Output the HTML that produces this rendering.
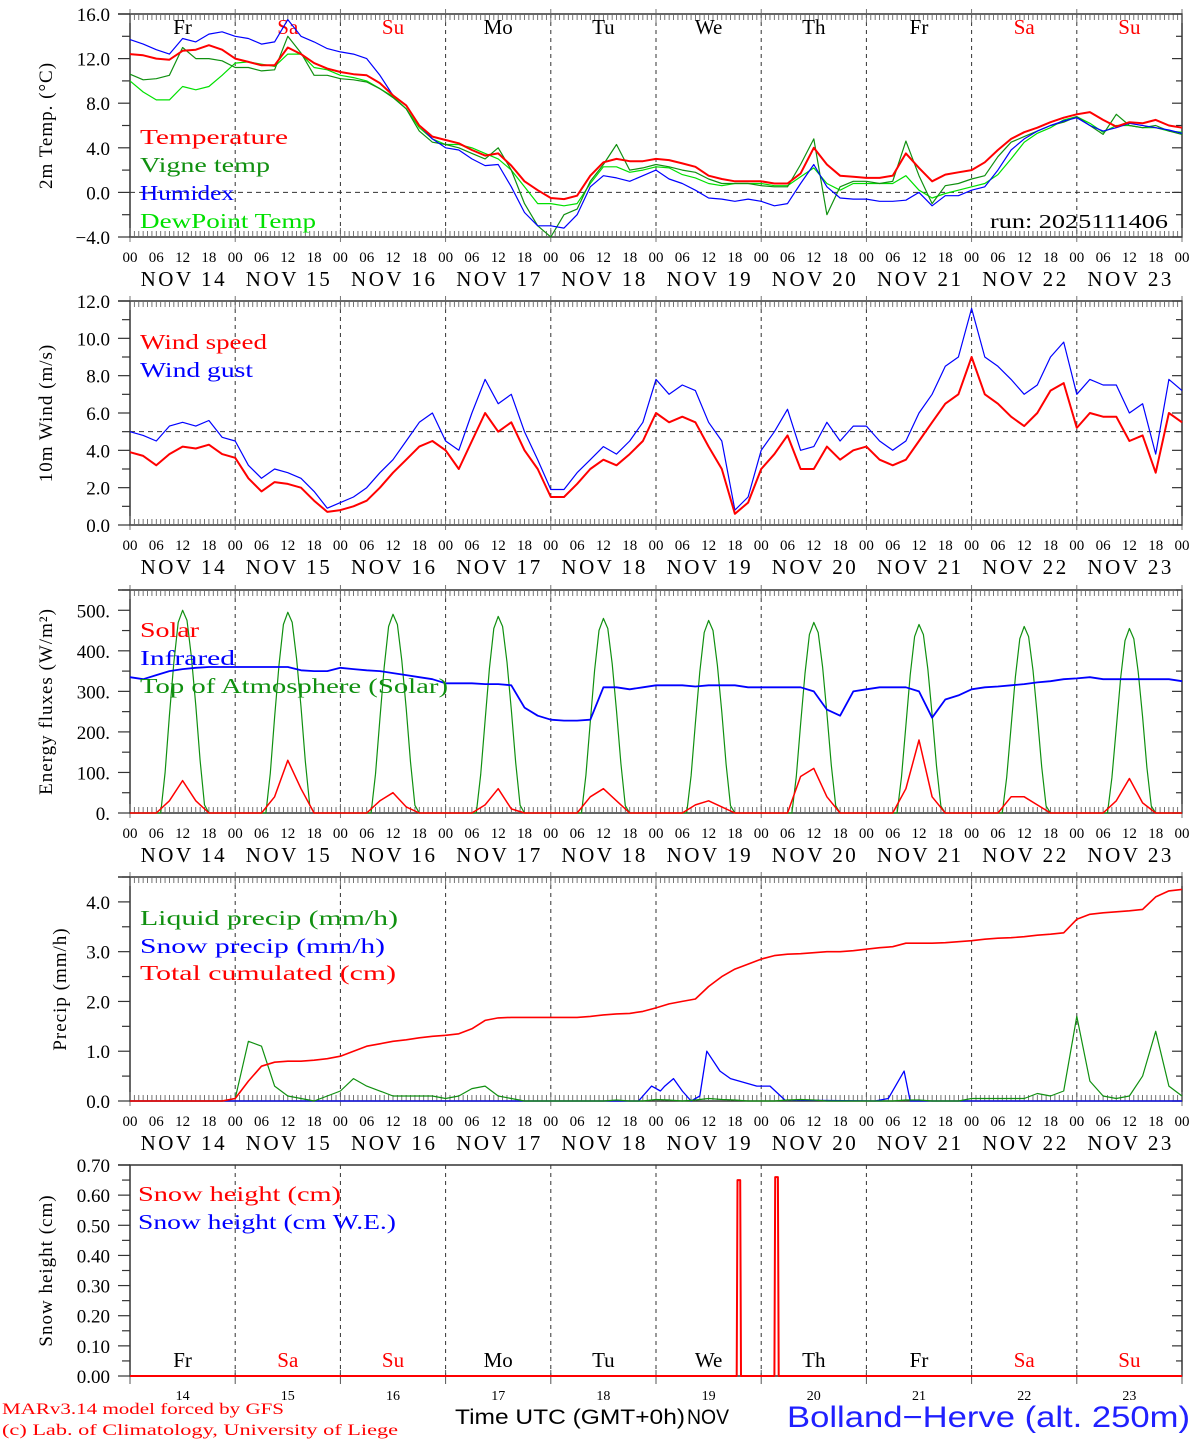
<!DOCTYPE html>
<html><head><meta charset="utf-8"><style>
html,body{margin:0;padding:0;background:#fff;}
svg{display:block;}
text{font-family:"Liberation Serif",serif;}
</style></head><body>
<svg id="chart" xmlns="http://www.w3.org/2000/svg" width="1194" height="1440" viewBox="0 0 1194 1440">
<rect width="1194" height="1440" fill="#fff"/>
</svg>
<script>
// ---------- DATA (3-hourly, t = 0..240 h from NOV 14 00 UTC) ----------
const dayNames = ["Fr","Sa","Su","Mo","Tu","We","Th","Fr","Sa","Su"];
const dayNums = ["14","15","16","17","18","19","20","21","22","23"];
const hourLabels = ["00","06","12","18"];
const tempTicks = [-4,0,4,8,12,16];
const windTicks = [0,2,4,6,8,10,12];
const fluxTicks = [0,100,200,300,400,500];
const precTicks = [0,1,2,3,4];
const snowTicks = [0,0.1,0.2,0.3,0.4,0.5,0.6,0.7];

const temperature = [12.4,12.3,12.0,11.9,12.7,12.8,13.2,12.8, 12.0,11.7,11.4,11.4,13.0,12.4,11.6,11.1, 10.8,10.6,10.5,9.8,8.7,7.8,6.0,5.0, 4.7,4.4,3.8,3.3,3.5,2.4,1.0,0.2, -0.5,-0.6,-0.3,1.5,2.7,3.0,2.8,2.8, 3.0,2.9,2.6,2.3,1.5,1.2,1.0,1.0, 1.0,0.8,0.8,1.7,4.0,2.5,1.5,1.4, 1.3,1.3,1.5,3.5,2.2,1.0,1.6,1.8, 2.0,2.7,3.8,4.8,5.4,5.8,6.3,6.7, 7.0,7.2,6.5,5.9,6.3,6.2,6.5,6.0,5.8];
const vigne = [10.6,10.1,10.2,10.5,13.0,12.0,12.0,11.8, 11.2,11.2,10.9,11.0,14.0,12.5,10.5,10.5, 10.2,10.1,9.9,9.3,8.5,7.5,5.5,4.5, 4.3,4.0,3.5,3.0,4.0,2.0,-1.0,-3.0, -4.0,-2.0,-1.5,1.0,2.5,4.3,2.0,2.2, 2.5,2.3,2.0,1.8,1.2,0.8,0.8,0.8, 0.6,0.5,0.5,2.5,4.8,-2.0,0.5,1.0, 1.0,0.8,1.0,4.6,1.5,-1.0,0.6,0.8, 1.2,1.5,3.2,4.5,5.0,5.5,6.0,6.3, 6.8,6.0,5.2,7.0,6.0,5.8,6.0,5.5,5.2];
const humidex = [13.7,13.3,12.8,12.4,13.8,13.5,14.2,14.4, 14.0,13.8,13.3,13.5,15.5,14.0,13.5,12.9, 12.6,12.4,12.0,10.5,8.7,7.8,6.0,4.8, 4.0,3.8,3.0,2.4,2.5,0.5,-1.8,-3.0, -3.0,-3.2,-2.0,0.5,1.5,1.3,1.0,1.5, 2.0,1.2,0.8,0.2,-0.5,-0.6,-0.8,-0.6, -0.8,-1.2,-1.0,0.8,2.5,0.5,-0.5,-0.6, -0.6,-0.8,-0.8,-0.7,0.0,-1.2,-0.3,-0.3, 0.2,0.5,2.0,3.8,4.8,5.5,6.0,6.4, 6.7,6.0,5.5,5.8,6.2,6.0,5.8,5.6,5.3];
const dewpoint = [10.0,9.0,8.3,8.3,9.5,9.2,9.5,10.5, 11.6,11.7,11.5,11.3,12.4,12.4,11.2,11.0, 10.5,10.3,10.0,9.3,8.6,7.5,5.8,4.8, 4.3,4.3,4.0,3.5,3.0,2.0,0.5,-1.0, -1.0,-1.2,-1.0,0.8,2.3,2.3,1.8,2.0, 2.3,2.2,1.6,1.3,0.8,0.6,0.8,0.8, 0.8,0.6,0.6,1.4,2.2,0.8,0.2,0.8, 0.8,0.8,0.8,1.5,0.2,-0.5,-0.1,0.2, 0.5,0.8,1.6,3.0,4.5,5.3,5.8,6.5, 6.8,6.2,5.4,6.0,6.0,5.8,5.8,5.5,5.4];

const windSpeed = [3.9,3.7,3.2,3.8,4.2,4.1,4.3,3.8, 3.6,2.5,1.8,2.3,2.2,2.0,1.3,0.7, 0.8,1.0,1.3,2.0,2.8,3.5,4.2,4.5, 4.0,3.0,4.5,6.0,5.0,5.5,4.0,3.0, 1.5,1.5,2.2,3.0,3.5,3.2,3.8,4.5, 6.0,5.5,5.8,5.5,4.2,3.0,0.6,1.2, 3.0,3.8,4.8,3.0,3.0,4.2,3.5,4.0, 4.2,3.5,3.2,3.5,4.5,5.5,6.5,7.0, 9.0,7.0,6.5,5.8,5.3,6.0,7.2,7.6, 5.2,6.0,5.8,5.8,4.5,4.8,2.8,6.0,5.5];
const windGust = [5.0,4.8,4.5,5.3,5.5,5.3,5.6,4.7, 4.5,3.2,2.5,3.0,2.8,2.5,1.8,0.9, 1.2,1.5,2.0,2.8,3.5,4.5,5.5,6.0, 4.5,4.0,6.0,7.8,6.5,7.0,5.0,3.5, 1.9,1.9,2.8,3.5,4.2,3.8,4.5,5.5, 7.8,7.0,7.5,7.2,5.5,4.5,0.8,1.5, 4.0,5.0,6.2,4.0,4.2,5.5,4.5,5.3, 5.3,4.5,4.0,4.5,6.0,7.0,8.5,9.0, 11.6,9.0,8.5,7.8,7.0,7.5,9.0,9.8, 7.0,7.8,7.5,7.5,6.0,6.5,3.8,7.8,7.2];

const solar = [0,0,0,30,80,30,0,0, 0,0,0,40,130,60,0,0, 0,0,0,30,50,15,0,0, 0,0,0,20,60,10,0,0, 0,0,0,40,60,30,0,0, 0,0,0,20,30,15,0,0, 0,0,0,90,110,40,0,0, 0,0,0,60,180,40,0,0, 0,0,0,40,40,20,0,0, 0,0,0,30,85,25,0,0,0];
const infrared = [335,330,340,350,355,358,360,360, 360,360,360,360,360,352,350,350, 358,355,352,350,345,340,335,330, 320,320,320,318,318,315,260,240, 230,228,228,230,310,310,305,310, 315,315,315,312,315,315,315,310, 310,310,310,310,300,255,240,300, 305,310,310,310,300,235,280,290, 305,310,312,315,318,322,325,330, 332,335,330,330,330,330,330,330,325];
const toaHours = [7,8,9,10,11,12,13,14,15,16,17,18];
const toaDay = [
 [0,100,240,370,470,500,475,385,265,130,20,0],
 [0,98,236,365,465,495,470,380,262,128,20,0],
 [0,96,232,360,460,490,465,376,258,126,19,0],
 [0,95,228,356,455,485,460,372,255,124,19,0],
 [0,93,225,352,450,480,455,368,252,122,18,0],
 [0,92,222,348,445,475,450,364,249,120,18,0],
 [0,90,219,344,440,470,445,360,246,118,18,0],
 [0,89,216,340,435,465,440,356,243,116,17,0],
 [0,88,213,336,430,460,435,352,240,114,17,0],
 [0,87,210,332,425,455,430,348,237,112,17,0]];

const liquid = [0,0,0,0,0,0,0,0, 0.05,1.2,1.1,0.3,0.1,0.05,0,0.1, 0.2,0.45,0.3,0.2,0.1,0.1,0.1,0.1, 0.05,0.1,0.25,0.3,0.1,0.05,0,0, 0,0,0,0,0,0.02,0,0, 0.03,0.02,0,0.02,0.05,0.03,0.02,0, 0,0,0.02,0.03,0.02,0,0,0, 0,0,0,0.02,0.02,0,0,0, 0.05,0.05,0.05,0.05,0.05,0.15,0.1,0.2, 1.7,0.4,0.1,0.05,0.1,0.5,1.4,0.3,0.1];
const snowPrecT = [0,116,119,121,122,124,126,128,130,131.6,134.6,137,139,143,146,149.4,170,173,176.6,178,240];
const snowPrecV = [0,0,0.3,0.2,0.3,0.45,0.2,0,0.1,1.0,0.6,0.45,0.4,0.3,0.3,0.02,0,0.05,0.6,0,0];
const cumul = [0,0,0,0,0,0,0,0, 0.05,0.4,0.7,0.78,0.8,0.8,0.82,0.85, 0.9,1.0,1.1,1.15,1.2,1.23,1.27,1.3, 1.32,1.35,1.45,1.62,1.67,1.68,1.68,1.68, 1.68,1.68,1.68,1.7,1.73,1.75,1.76,1.8, 1.87,1.95,2.0,2.05,2.3,2.5,2.65,2.75, 2.85,2.92,2.95,2.96,2.98,3.0,3.0,3.02, 3.05,3.08,3.1,3.17,3.17,3.17,3.18,3.2, 3.22,3.25,3.27,3.28,3.3,3.33,3.35,3.38, 3.65,3.75,3.78,3.8,3.82,3.85,4.1,4.22,4.25];
const snowHT = [0,138.4,138.6,139.2,139.4,147.0,147.2,147.8,148.0,240];
const snowHV = [0,0,0.65,0.65,0,0,0.66,0.66,0,0];

// ---------- RENDER ----------
const NS="http://www.w3.org/2000/svg";
const svg=document.getElementById('chart');
const X0=130, X1=1182;
function xs(t){return X0+(t/240)*(X1-X0);}
function mk(tag,attrs,parent){const e=document.createElementNS(NS,tag);for(const k in attrs)e.setAttribute(k,attrs[k]);(parent||svg).appendChild(e);return e;}
function txt(s,x,y,attrs){const e=mk('text',Object.assign({x:x,y:y},attrs||{}));e.textContent=s;return e;}

const panels=[
 {name:'temp',top:14,bot:237,min:-4,max:16,ticks:tempTicks,minor:2,fmt:v=>v.toFixed(1).replace('-','−'),title:'2m Temp. (°C)',dash:0,hours:true},
 {name:'wind',top:301,bot:525,min:0,max:12,ticks:windTicks,minor:1,fmt:v=>v.toFixed(1),title:'10m Wind (m/s)',dash:5,hours:true},
 {name:'flux',top:590,bot:813,min:0,max:550,ticks:fluxTicks,minor:50,fmt:v=>v+'.',title:'Energy fluxes (W/m²)',hours:true},
 {name:'precip',top:877,bot:1101,min:0,max:4.5,ticks:precTicks,minor:0.5,fmt:v=>v.toFixed(1),title:'Precip (mm/h)',hours:true},
 {name:'snow',top:1165,bot:1376,min:0,max:0.7,ticks:snowTicks,minor:0.05,fmt:v=>v.toFixed(2),title:'Snow height (cm)',hours:false}
];
panels.forEach(p=>{p.y=v=>p.bot-(v-p.min)/(p.max-p.min)*(p.bot-p.top);});

function series(p,values,color,w,name,times){
  let d='';values.forEach((v,i)=>{const t=times?times[i]:i*3;d+=(i?'L':'M')+xs(t).toFixed(1)+' '+p.y(v).toFixed(1);});
  const e=mk('path',{d:d,fill:'none',stroke:color,'stroke-width':w,'stroke-linejoin':'round'});
  
  
  return e;
}

panels.forEach((p,pi)=>{
  const g=mk('g',{});
  
  
  for(let d=1;d<10;d++){mk('line',{x1:xs(d*24),x2:xs(d*24),y1:p.top,y2:p.bot,stroke:'#333','stroke-width':1,'stroke-dasharray':'4,4'},g);}
  if(p.dash!==undefined){mk('line',{x1:X0,x2:X1,y1:p.y(p.dash),y2:p.y(p.dash),stroke:'#333','stroke-width':1,'stroke-dasharray':'5,4'},g);}
  mk('rect',{x:X0,y:p.top,width:X1-X0,height:p.bot-p.top,fill:'none',stroke:'#333','stroke-width':1.5},g);
  mk('line',{x1:118,x2:X0,y1:p.top,y2:p.top,stroke:'#333','stroke-width':1.5},g);
  if(p.hours){
    for(let h=0;h<=240;h+=1){
      const x=xs(h), major=h%24===0, l=major?9:6;
      mk('line',{x1:x,x2:x,y1:p.bot+(major?5:0),y2:p.bot-l,stroke:'#666','stroke-width':0.9},g);
      mk('line',{x1:x,x2:x,y1:p.top-(major?5:0),y2:p.top+l,stroke:'#666','stroke-width':0.9},g);
    }
    for(let d=0;d<10;d++){
      for(let k=0;k<4;k++){const l=txt(hourLabels[k],xs(d*24+k*6),p.bot+25,{'font-size':15,'text-anchor':'middle',fill:'#000'});}
      const l=txt('NOV '+dayNums[d],xs(d*24+12),p.bot+49,{'font-size':21,'text-anchor':'middle',fill:'#000',textLength:'84',lengthAdjust:'spacing'});
      
    }
    const l2=txt('00',xs(240),p.bot+25,{'font-size':15,'text-anchor':'middle'});
    
  } else {
    for(let d=0;d<=10;d++){mk('line',{x1:xs(d*24),x2:xs(d*24),y1:p.bot+8,y2:p.bot-6,stroke:'#555','stroke-width':1},g);}
    for(let d=0;d<10;d++){const l=txt(dayNums[d],xs(d*24+12),p.bot+24,{'font-size':14,'text-anchor':'middle'});}
  }
  for(let v=p.min;v<=p.max+1e-9;v+=p.minor){
    const y=p.y(v); const major=p.ticks.some(t=>Math.abs(t-v)<1e-6);
    mk('line',{x1:major?118:122,x2:X0,y1:y,y2:y,stroke:'#333','stroke-width':1.2},g);
    mk('line',{x1:X1-(major?10:6),x2:X1,y1:y,y2:y,stroke:'#333','stroke-width':1.2},g);
  }
  p.ticks.forEach(v=>{const l=txt(p.fmt(v),110,p.y(v)+7,{'font-size':19,'text-anchor':'end'});});
  const ty=(p.top+p.bot)/2;
  const tt=txt(p.title,0,0,{'font-size':19,'text-anchor':'middle',transform:`translate(${pi===3?66:52},${ty}) rotate(-90)`,'letter-spacing':'1'});
  
});

function dayLabels(y){for(let d=0;d<10;d++){const c=(dayNames[d]==='Sa'||dayNames[d]==='Su')?'#f00':'#000';const l=txt(dayNames[d],xs(d*24+12),y,{'font-size':21,'text-anchor':'middle',fill:c});}}
dayLabels(34); dayLabels(1367);

const [P1,P2,P3,P4,P5]=panels;
series(P1,dewpoint,'#00e000',1.2,'dewpoint-line');
series(P1,vigne,'#109010',1.2,'vigne-temp-line');
series(P1,humidex,'#0000ff',1.2,'humidex-line');
series(P1,temperature,'#ff0000',2,'temperature-line');
series(P2,windGust,'#0000ff',1.2,'wind-gust-line');
series(P2,windSpeed,'#ff0000',2,'wind-speed-line');
let toaT=[0],toaV=[0];
toaDay.forEach((vals,d)=>{toaHours.forEach((h,k)=>{toaT.push(d*24+h);toaV.push(vals[k]);});});
toaT.push(240);toaV.push(0);
series(P3,toaV,'#109010',1.2,'toa-solar-line',toaT);
series(P3,solar,'#ff0000',1.5,'solar-line');
series(P3,infrared,'#0000ff',1.8,'infrared-line');
series(P4,snowPrecV,'#0000ff',1.3,'snow-precip-line',snowPrecT);
series(P4,liquid,'#109010',1.2,'liquid-precip-line');
series(P4,cumul,'#ff0000',1.6,'cumulated-precip-line');
series(P5,snowHV,'#ff0000',2,'snow-height-line',snowHT);

function leg(s,x,y,c,len){const l=txt(s,x,y,{'font-size':21,fill:c,textLength:len,lengthAdjust:'spacingAndGlyphs'});}
leg('Temperature',140,144,'#ff0000',148);
leg('Vigne temp',140,172,'#109010',130);
leg('Humidex',140,200,'#0000ff',94);
leg('DewPoint Temp',140,228,'#00e000',176);
leg('Wind speed',140,349,'#ff0000',127);
leg('Wind gust',140,377,'#0000ff',113);
leg('Solar',140,637,'#ff0000',59);
leg('Infrared',140,665,'#0000ff',95);
leg('Top of Atmosphere (Solar)',140,693,'#109010',308);
leg('Liquid precip (mm/h)',140,925,'#109010',258);
leg('Snow precip (mm/h)',140,953,'#0000ff',245);
leg('Total cumulated (cm)',140,980,'#ff0000',256);
leg('Snow height (cm)',138,1201,'#ff0000',203);
leg('Snow height (cm W.E.)',138,1229,'#0000ff',258);
const run=txt('run: 2025111406',990,228,{'font-size':20,fill:'#000',textLength:178,lengthAdjust:'spacingAndGlyphs'});


const f1=txt('MARv3.14 model forced by GFS',2,1414,{'font-size':16,fill:'#ff0000',textLength:282,lengthAdjust:'spacingAndGlyphs'});

const f2=txt('(c) Lab. of Climatology, University of Liege',2,1435,{'font-size':16,fill:'#ff0000',textLength:396,lengthAdjust:'spacingAndGlyphs'});

const f3=txt('Time UTC (GMT+0h)',455,1424,{'font-size':21,fill:'#000',textLength:230,lengthAdjust:'spacingAndGlyphs',style:'font-family:"Liberation Sans Narrow","Liberation Sans",sans-serif'});

const f4=txt('NOV',687,1424,{'font-size':21,fill:'#000',textLength:42,lengthAdjust:'spacingAndGlyphs',style:'font-family:"Liberation Sans Narrow","Liberation Sans",sans-serif'});

const f5=txt('Bolland−Herve (alt. 250m)',787,1427,{'font-size':30,fill:'#2020ff',textLength:403,lengthAdjust:'spacingAndGlyphs',style:'font-family:"Liberation Sans Narrow","Liberation Sans",sans-serif'});

</script>
</body></html>
